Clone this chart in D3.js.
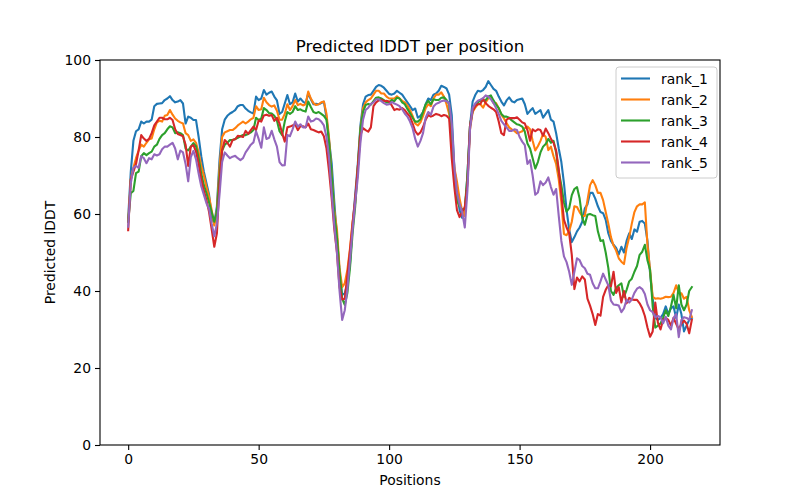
<!DOCTYPE html>
<html lang="en">
	<head>
		<meta charset="utf-8">
		<title>Predicted lDDT per position</title>
		<script type="text/javascript" src="https://cdn.jsdelivr.net/npm/d3@7"></script>
		<style type="text/css">
			html, body {
				margin: 0;
				background-color: white;
			}
			text {
				font-family: "DejaVu Sans", sans-serif;
			}
		</style>
	</head>
	<body>
		<script type="text/javascript">

			var rank_1 = [59, 71, 79, 81.5, 82, 84, 83.5, 84, 84, 84.5,
				88, 88.6, 88.7, 88.8, 89.6, 90, 90.6, 89.6, 89, 89.2,
				89.6, 88.7, 83.5, 85.3, 85, 84.4, 84.4, 80, 75, 71,
				68, 65, 59, 57.6, 62, 74, 82, 84.5, 85.5, 86.1,
				86.5, 87, 88, 88.3, 88.3, 87.4, 86.8, 86.4, 86.1, 90.5,
				89.6, 90, 92.2, 91, 91.5, 91.8, 90.5, 89.5, 86, 86.5,
				88.7, 90.9, 88.5, 89, 91.3, 89.2, 90, 89.2, 88.7, 91.3,
				89.8, 88.5, 88.6, 88.5, 88.8, 89.2, 85, 79, 73, 63,
				54, 45, 39, 39.4, 42, 47, 57, 65, 73, 83,
				88.5, 90.5, 90.9, 91, 92, 93, 93.5, 93.3, 92.8, 92,
				91.2, 91, 91.3, 92, 91.5, 91, 90, 89, 88, 87,
				87.4, 85, 85.5, 86.5, 88.5, 90, 89.6, 91, 91.3, 92,
				93.3, 93, 92.6, 91, 85.7, 72, 66, 61, 59, 60,
				70, 83, 89.2, 90.9, 92, 91.8, 92.2, 93, 94.5, 93.5,
				92.5, 92, 90.5, 89.2, 88.2, 89.5, 90.3, 89.3, 89, 89.6,
				89.8, 90, 88.5, 86, 86.8, 87.5, 86, 86.5, 87, 85,
				86, 87, 84.5, 84, 81, 77, 73.5, 68, 61, 56,
				52.7, 54, 55.5, 56.5, 58, 61.5, 62.5, 65.5, 65.5, 64,
				62, 60.5, 60.2, 58.5, 55, 53, 52, 51.2, 49.5, 51.5,
				50, 53, 55, 53.5, 56, 55.4, 58, 58.2, 57.5, 53,
				44.6, 38, 33, 32.5, 33, 34, 36, 34, 35.5, 36,
				33, 36.5, 34, 29.5, 31, 32.5, 33];

			var rank_2 = [58, 69, 72, 74.5, 76.5, 78, 77.5, 78.5, 79.4, 79.6,
				82, 83.8, 84.2, 84, 85.5, 85.7, 87, 85.8, 84.8, 84.2,
				83.8, 83.5, 81, 80.5, 79, 79.4, 78.5, 76, 72.5, 70,
				67, 64.5, 61, 57, 61, 72, 80, 81.2, 81.5, 81.8,
				81.8, 82.3, 83, 83.5, 84, 83.5, 84, 84.6, 85, 88,
				87, 87.2, 90.2, 89, 88.3, 87.9, 88.2, 86.8, 84.5, 84.5,
				86, 88.5, 87, 88, 89.6, 88.3, 88.6, 88.2, 88.5, 91.8,
				90, 88.8, 88.3, 88.5, 89, 89.2, 86, 79.5, 70, 61,
				56, 46, 41, 42, 45.5, 51, 58, 63, 72, 82,
				87.5, 89, 89.6, 90, 91, 92, 92, 91.3, 91.3, 90.5,
				90, 90, 90, 90.6, 90, 89.4, 89, 88.2, 87, 85.5,
				83.5, 83, 83.8, 85.5, 87.5, 88.5, 88, 90, 91, 91,
				91.6, 90.5, 88.5, 86, 80, 72, 68.4, 64, 60.8, 59.5,
				68, 82, 86.5, 87.6, 88.5, 88.5, 87.6, 89, 90, 90.2,
				88.8, 88.8, 87.5, 85.8, 84.8, 83.6, 82.5, 82, 81.6, 81,
				81.2, 81.5, 82.3, 82.7, 82, 79, 76.5, 77.6, 79, 80.8,
				80, 76.6, 77.5, 75, 73, 69, 63, 54.8, 54.5, 55.5,
				58, 62, 61.8, 60.5, 59.5, 59.5, 63.5, 67.5, 68.8, 67.5,
				65.5, 65.5, 63.6, 60.5, 57.5, 54, 51.8, 50.5, 48.5, 47.6,
				47, 51.2, 54, 57.5, 60.5, 62, 62.5, 62.5, 63, 52,
				45.5, 38.5, 38, 38.1, 38, 38.2, 38.5, 38.4, 38.5, 39.5,
				41.5, 39.5, 39.4, 38, 38.5, 35, 33.3];

			var rank_3 = [58, 65.4, 66, 70.6, 71, 75, 75.8, 75.3, 75.8, 76.2,
				77.5, 78, 79.5, 80.5, 81, 82, 82.8, 82.5, 81, 81.2,
				81, 80.5, 77, 76.5, 77.5, 78.4, 77.6, 74.5, 70.5, 67.5,
				65.4, 63, 60.5, 58, 60.5, 70, 76.5, 78, 78.5, 79.2,
				79.2, 79.5, 79.8, 80.2, 80.5, 80.5, 80.8, 81.2, 81.8, 85,
				84.4, 84.8, 87.5, 87, 86.2, 86.1, 85.5, 84.3, 81.5, 80.5,
				84, 86.5, 86, 86.5, 88, 87, 87.2, 86.8, 86.6, 89.2,
				87.8, 86.5, 86.2, 86.5, 86, 85.5, 84.5, 78.5, 70, 60,
				54, 45, 38, 36.4, 39.5, 46, 55, 62, 72, 82,
				86.5, 88.3, 88.6, 88.4, 89.3, 90.2, 90.3, 90, 89.6, 89,
				89, 89.6, 89.3, 90.2, 90, 89, 88.5, 87.3, 86.2, 85,
				84, 84, 84.6, 86.5, 88.5, 89.4, 88.5, 89.8, 89.6, 89.6,
				90.2, 90.3, 89.6, 88.5, 79, 69, 63.5, 62, 61, 61.5,
				70, 83, 86.8, 88.2, 89, 89.5, 89.4, 89.6, 90.5, 90.8,
				89.5, 88.4, 87.5, 86, 85.3, 85.3, 85, 84.3, 83.8, 83.3,
				83.1, 82.7, 81.4, 78.3, 77, 74.5, 71.8, 73.5, 76, 77.5,
				78.2, 79.5, 78.5, 79, 76, 71, 67.5, 63, 60.6, 61.5,
				64.9, 66.5, 67, 64, 59, 57.2, 59.8, 60, 59.7, 59.5,
				55.5, 53, 53.2, 50, 46, 40, 39, 40.8, 41.5, 42,
				38.5, 40.3, 42.5, 43.2, 45, 46.5, 49.4, 50.2, 52, 48,
				45.5, 36, 30.5, 31, 31.6, 33, 35, 33.5, 36, 39,
				35.5, 41.5, 36.5, 35, 36.5, 40, 41];

			var rank_4 = [55.8, 69, 71, 73, 76.5, 80.5, 79.6, 79, 79.5, 81,
				83, 84, 85, 85, 84.6, 84.6, 85, 84.4, 82, 80.8,
				80.5, 80.2, 78, 72.5, 77.5, 77.9, 76.2, 73, 69, 66,
				63.6, 60.5, 56, 51.5, 55, 68, 76.5, 79.2, 78.5, 77.5,
				79.2, 79.4, 80.3, 80.2, 80, 81.6, 80.8, 81.8, 82.7, 81.8,
				84.3, 84, 85.6, 85.8, 85.5, 85.7, 84.2, 85, 83.5, 81,
				78.8, 82.5, 82.7, 83, 83.3, 81.8, 82.8, 82.8, 82.5, 83.5,
				82, 81.8, 81.5, 81.2, 81.4, 80.2, 77, 71, 64, 56,
				50, 41, 37.8, 38, 44, 50.5, 57.5, 64, 72, 80.5,
				82.3, 81.8, 81.4, 82.5, 88, 89, 89.5, 89.7, 89.3, 89.4,
				89.2, 88.2, 87, 87.3, 87.1, 87.5, 87, 86.1, 85.3, 83.5,
				81.5, 80.6, 81.2, 82.6, 84.5, 85.7, 85.3, 85.6, 86, 85.8,
				85.4, 85.7, 85.5, 84.8, 74.5, 67, 61, 59.2, 60.5, 61.8,
				68, 83, 86.8, 88, 88.5, 88.6, 90, 88.8, 88.1, 87.6,
				87.2, 86.5, 84, 81, 80.5, 84.5, 84.9, 84.9, 84.9, 85.1,
				84.5, 83.8, 83.5, 81.8, 79, 82, 81.5, 82, 81.8, 80.3,
				82.2, 81, 79.5, 78.5, 76.5, 71.5, 65, 58.5, 56.5, 55,
				49.4, 40.5, 43.5, 42.5, 43.8, 43, 38, 36.2, 34, 31.2,
				34, 33.6, 38.5, 40.3, 41.5, 41.2, 45, 39.5, 41, 37,
				40, 36.8, 38.2, 37.8, 37.7, 37.7, 36.8, 35.5, 33.5, 30.5,
				28.1, 29.5, 37, 31.8, 30, 32.5, 33, 32.5, 31, 33,
				31.5, 30, 31.5, 32.3, 31.5, 29, 32.5];

			var rank_5 = [56.7, 68, 72, 72.5, 72, 75, 74.5, 73.2, 74.5, 74.2,
				75.5, 75.2, 75.5, 76.8, 77.5, 77.5, 78, 78.5, 77, 74.2,
				76.5, 76, 73, 68.5, 74.8, 76.4, 74.2, 70.5, 67.2, 65,
				62.8, 61.3, 57.5, 54.2, 57.5, 65, 73.5, 76, 75.2, 74.5,
				74.9, 75.1, 74.5, 74, 74.5, 76, 77, 78, 78.6, 81.5,
				79.5, 77.2, 82.5, 79.5, 79.8, 81.6, 79.4, 77.5, 73.5, 72.6,
				72.7, 80.5, 80.2, 82, 84, 82.7, 83.3, 82.5, 82.5, 85.3,
				84, 84.2, 84.8, 84.6, 84, 83, 80, 74.5, 65.5, 57,
				50, 40, 32.5, 35, 40.5, 48, 56, 63, 69.5, 78.5,
				84.5, 87, 87.6, 88.6, 89, 89.8, 89.8, 89.3, 88.8, 88.4,
				88.5, 89.1, 88.7, 88.4, 88, 87.2, 86.1, 85.3, 84, 82.3,
				79.5, 77.5, 79, 81, 85, 86.5, 85.8, 87.9, 88.6, 88.9,
				89.3, 89.5, 89.3, 88.8, 83.5, 72, 65.5, 62.5, 60.5, 56.5,
				66, 82, 87.5, 88.7, 89.4, 89.7, 90.1, 90.8, 90.5, 89.8,
				88.8, 87.5, 86, 84.2, 83.3, 82.5, 81.6, 81.6, 82, 81.8,
				80, 78.8, 77.9, 73, 74, 70, 65, 65.6, 68.5, 67.5,
				68.2, 69.5, 67, 65, 66.5, 59.5, 53, 49, 47.5, 45,
				41.6, 45, 48.5, 48, 46.5, 45.9, 44.5, 44.2, 42, 40.7,
				40.7, 42.5, 44.5, 43, 41.5, 37.5, 36.5, 36.4, 36.2, 34.5,
				35.5, 37.7, 37, 37.8, 39.5, 40.6, 41, 40.5, 39.2, 36.5,
				35, 34.5, 33.2, 33.5, 33.2, 31.6, 33.3, 31, 30, 33,
				34, 28, 32.5, 33.2, 33, 32.5, 35];

			var seriesNames = ["rank_1", "rank_2", "rank_3", "rank_4", "rank_5"];
			var seriesColors = ["#1f77b4", "#ff7f0e", "#2ca02c", "#d62728", "#9467bd"];
			var xTicks = [0, 50, 100, 150, 200];
			var yTicks = [0, 20, 40, 60, 80, 100];

			var w = 800;
			var h = 500;
			var plotLeft = 100, plotRight = 720, plotTop = 60, plotBottom = 445;

			var allSeries = [rank_1, rank_2, rank_3, rank_4, rank_5];
			var n = rank_1.length;

			var svg = d3.select("body")
						.append("svg")
						.attr("width", w)
						.attr("height", h);

			// matplotlib style 5% margin on x
			var xMax = n - 1;
			var xPad = xMax * 0.05;
			var xScale = d3.scaleLinear()
							.domain([-xPad, xMax + xPad])
							.range([plotLeft, plotRight]);

			var yScale = d3.scaleLinear()
							.domain([0, 100])
							.range([plotBottom, plotTop]);

			var line = d3.line()
						.x(function(d, i) { return xScale(i); })
						.y(function(d) { return yScale(d); });

			svg.append("g")
				.selectAll("path")
				.data(allSeries)
				.enter()
				.append("path")
				.attr("d", line)
				.attr("fill", "none")
				.attr("stroke", function(d, i) { return seriesColors[i]; })
				.attr("stroke-width", 2.1)
				.attr("stroke-linejoin", "round")
				.attr("stroke-linecap", "square");

			//axes
			var xAxis = d3.axisBottom(xScale)
							.tickValues(xTicks)
							.tickSize(5)
							.tickPadding(4);

			var yAxis = d3.axisLeft(yScale)
							.tickValues(yTicks)
							.tickSize(5)
							.tickPadding(4);

			var gx = svg.append("g")
				.attr("transform", "translate(0," + plotBottom + ")")
				.call(xAxis);

			var gy = svg.append("g")
				.attr("transform", "translate(" + plotLeft + ",0)")
				.call(yAxis);

			[gx, gy].forEach(function(g) {
				g.select(".domain").remove();
				g.selectAll("line").attr("stroke", "black").attr("stroke-width", 1.1);
				g.selectAll("text")
					.attr("fill", "black")
					.style("font-size", "13.9px")
					.style("font-family", "DejaVu Sans");
			});

			//frame
			svg.append("rect")
				.attr("x", plotLeft)
				.attr("y", plotTop)
				.attr("width", plotRight - plotLeft)
				.attr("height", plotBottom - plotTop)
				.attr("fill", "none")
				.attr("stroke", "black")
				.attr("stroke-width", 1.1);

			svg.append("text")
				.text("Predicted lDDT per position")
				.attr("x", (plotLeft + plotRight) / 2)
				.attr("y", plotTop - 8)
				.attr("text-anchor", "middle")
				.style("font-size", "16.7px");

			svg.append("text")
				.text("Positions")
				.attr("x", (plotLeft + plotRight) / 2)
				.attr("y", 485)
				.attr("text-anchor", "middle")
				.style("font-size", "13.9px");

			svg.append("text")
				.text("Predicted lDDT")
				.attr("transform", "translate(55," + ((plotTop + plotBottom) / 2) + ") rotate(-90)")
				.attr("text-anchor", "middle")
				.style("font-size", "13.9px");

			//legend
			var legend = svg.append("g")
				.attr("transform", "translate(616,67)");

			legend.append("rect")
				.attr("width", 101)
				.attr("height", 111)
				.attr("rx", 3)
				.attr("fill", "white")
				.attr("fill-opacity", 0.8)
				.attr("stroke", "#cccccc")
				.attr("stroke-width", 1);

			var items = legend.selectAll("g.item")
				.data(seriesNames)
				.enter()
				.append("g")
				.attr("class", "item")
				.attr("transform", function(d, i) {
					return "translate(0," + (11.5 + i * 21) + ")";
				});

			items.append("line")
				.attr("x1", 5)
				.attr("x2", 34)
				.attr("stroke", function(d, i) { return seriesColors[i]; })
				.attr("stroke-width", 2.1);

			items.append("text")
				.text(function(d) { return d; })
				.attr("x", 45)
				.attr("y", 5)
				.style("font-size", "13.9px");

		</script>
	</body>
</html>
